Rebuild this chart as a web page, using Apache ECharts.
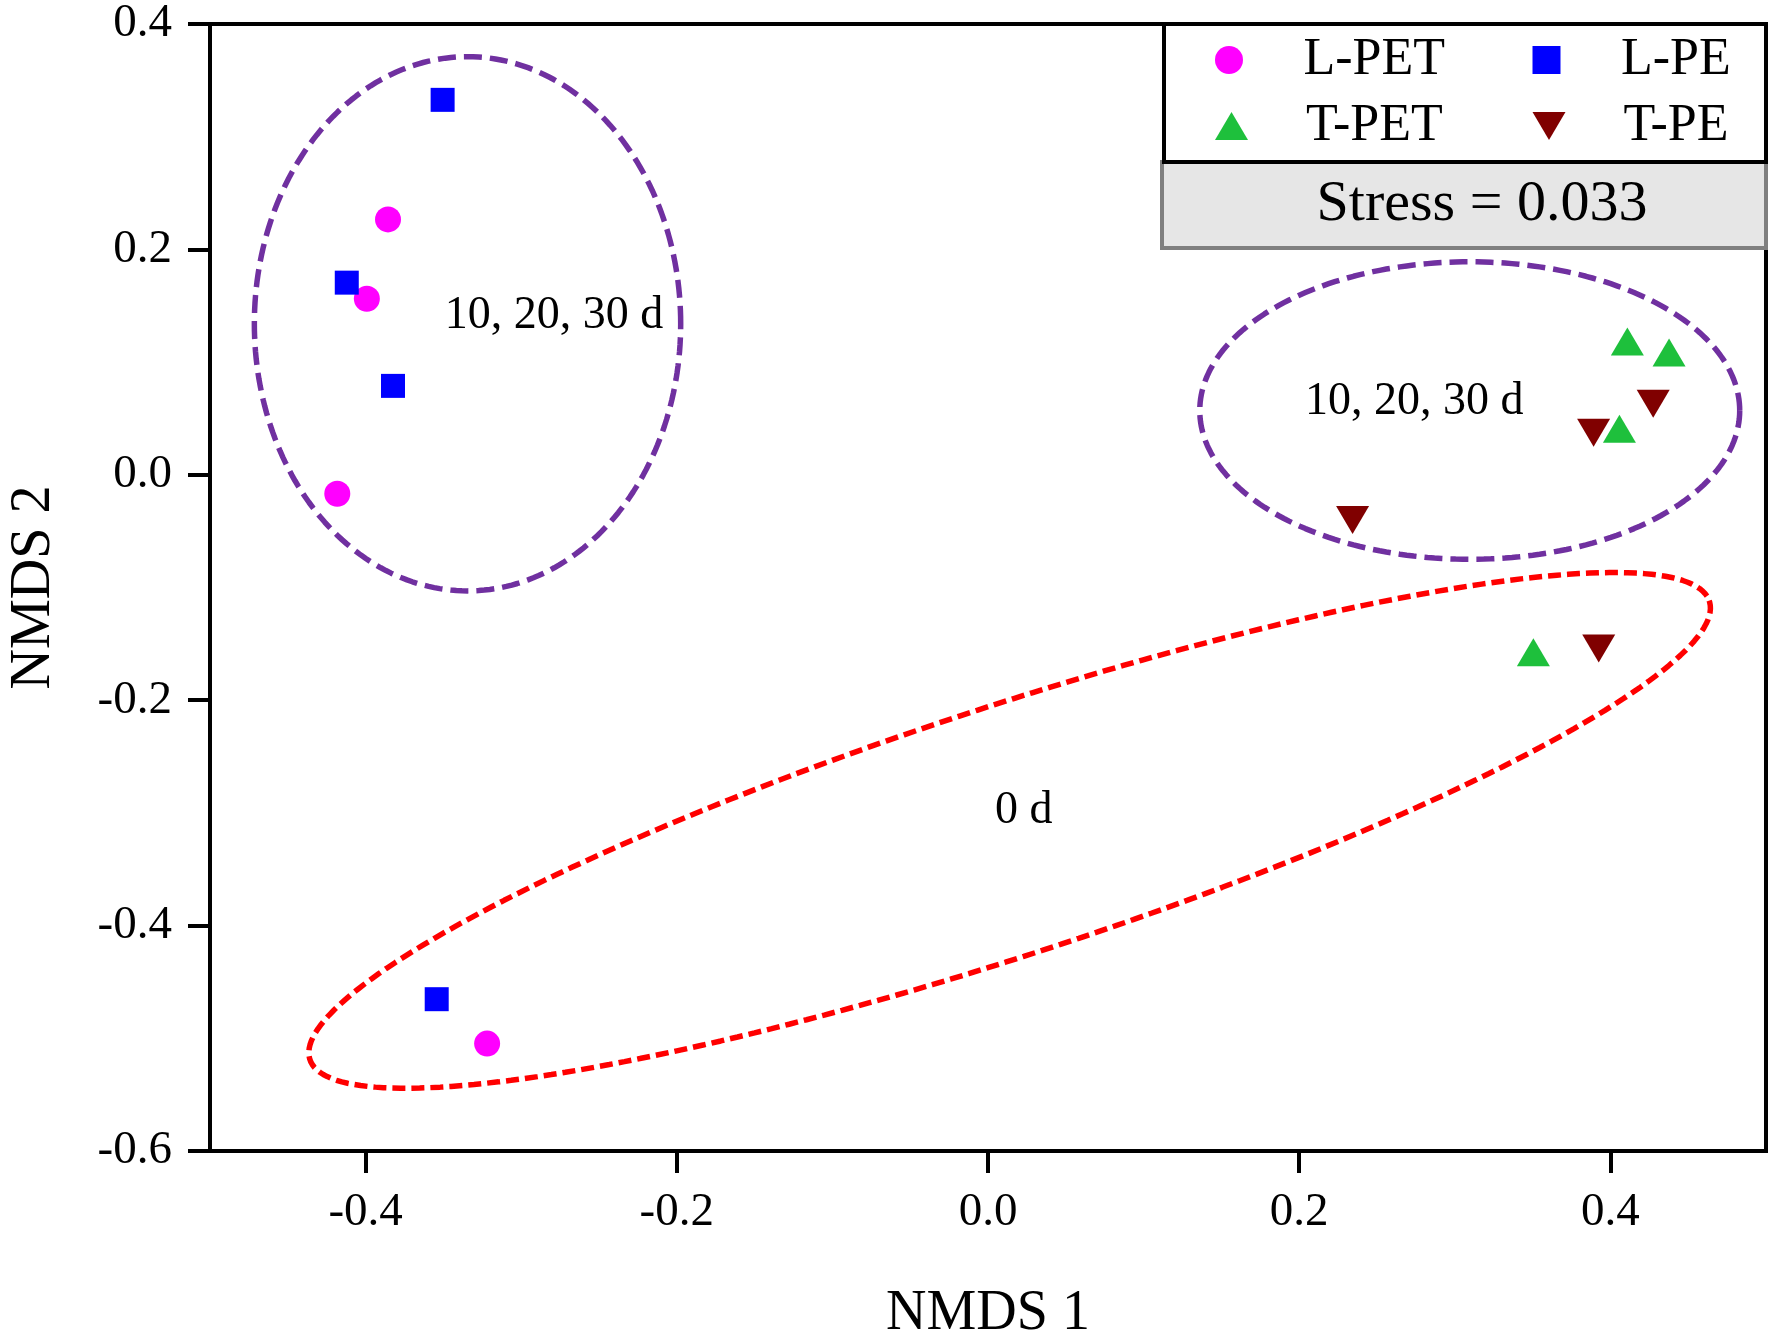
<!DOCTYPE html>
<html>
<head>
<meta charset="utf-8">
<title>NMDS</title>
<script src="https://cdn.jsdelivr.net/npm/echarts@6/dist/echarts.min.js"></script>
<style>
	html, body { margin: 0; padding: 0; background: #fff; }
	#chart { width: 1772px; height: 1334px; }
</style>
</head>
<body>
<div id="chart"></div>
<script>
// 样本点 [NMDS 1, NMDS 2]
var lPET = [[-0.3856, 0.2266], [-0.3992, 0.1562], [-0.4182, -0.0168], [-0.3219, -0.5047]];
var lPE = [[-0.3505, 0.3327], [-0.4121, 0.1705], [-0.3824, 0.0789], [-0.3543, -0.4653]];
var tPET = [[0.4109, 0.1183], [0.4377, 0.1086], [0.4058, 0.0408], [0.3505, -0.1575]];
var tPE = [[0.4275, 0.0630], [0.3892, 0.0373], [0.2343, -0.0401], [0.3925, -0.1542]];
var seriesNames = ['L-PET', 'L-PE', 'T-PET', 'T-PE'];

// 坐标轴刻度
var xTicks = [-0.4, -0.2, 0, 0.2, 0.4];
var yTicks = [-0.6, -0.4, -0.2, 0, 0.2, 0.4];

// 分组椭圆: 中心x, 中心y, 半轴a, 半轴b, 旋转角(度)
var ellipseLeft = [-0.3345, 0.134, 0.137, 0.237, 0];
var ellipseRight = [0.3096, 0.057, 0.1735, 0.132, 0];
var ellipseZero = [0.0139, -0.3155, 0.494, 0.1056, 24.87];

// 椭圆标注
var groupNotes = [[-0.279, 0.141, '10, 20, 30 d'], [0.274, 0.065, '10, 20, 30 d'], [0.023, -0.298, '0 d']];
var stressText = 'Stress = 0.033';

var FONT = 'Liberation Serif';
var downTri = 'path://M0,0 L66,0 L33,56 Z';
var upTri = 'path://M33,0 L66,56 L0,56 Z';
var square = 'path://M0,0 L10,0 L10,10 L0,10 Z';

//椭圆取点
function ellipse_points(e) {
	var pts = [];
	var rad = e[4] * Math.PI / 180;
	for(var i = 0; i <= 240; i++) {
		var t = i / 240 * 2 * Math.PI;
		var u = e[2] * Math.cos(t);
		var v = e[3] * Math.sin(t);
		pts.push([e[0] + u * Math.cos(rad) - v * Math.sin(rad), e[1] + u * Math.sin(rad) + v * Math.cos(rad)]);
	}
	return pts;
}

function ellipse_series(e, color, dash) {
	return {
		type: 'line',
		data: ellipse_points(e),
		symbol: 'none',
		silent: true,
		z: 2,
		lineStyle: { color: color, width: 5.5, type: dash }
	};
}

function tick_fmt(v) {
	if(Math.abs(v) < 1e-9) return '0.0';
	return v.toFixed(1);
}

//图例: 每项单独放置
function legend_item(name, icon, cx, cy) {
	return {
		left: cx - 16.5, top: cy - 26, z: 100,
		padding: 0, itemGap: 0,
		itemWidth: 33, itemHeight: 28,
		symbolRotate: 0, selectedMode: false,
		textStyle: { fontSize: 52, fontFamily: FONT, color: '#000', lineHeight: 40, padding: [0, 0, 0, 53] },
		data: [{ name: name, icon: icon }]
	};
}

var myChart = echarts.init(document.getElementById('chart'));

var option = {
	animation: false,
	backgroundColor: '#fff',
	grid: {
		left: 210, top: 24, right: 6, bottom: 183,
		outerBoundsMode: 'none', containLabel: false,
		show: true, borderColor: '#000', borderWidth: 4
	},
	xAxis: {
		type: 'value', min: -0.5, max: 0.5,
		splitLine: { show: false },
		axisLine: { onZero: false, lineStyle: { color: '#000', width: 4 } },
		axisTick: { customValues: xTicks, length: 22, lineStyle: { color: '#000', width: 4 } },
		axisLabel: { customValues: xTicks, formatter: tick_fmt, fontSize: 47, fontFamily: FONT, color: '#000', margin: 38 },
		name: 'NMDS 1', nameLocation: 'middle', nameGap: 135,
		nameTextStyle: { fontSize: 56, fontFamily: FONT, color: '#000' }
	},
	yAxis: {
		type: 'value', min: -0.6, max: 0.4, interval: 0.2,
		splitLine: { show: false },
		axisLine: { onZero: false, lineStyle: { color: '#000', width: 4 } },
		axisTick: { length: 22, lineStyle: { color: '#000', width: 4 } },
		axisLabel: { formatter: tick_fmt, fontSize: 47, fontFamily: FONT, color: '#000', margin: 38 },
		name: 'NMDS 2', nameLocation: 'middle', nameGap: 148,
		nameTextStyle: { fontSize: 56, fontFamily: FONT, color: '#000' }
	},
	legend: [
		legend_item(seriesNames[0], 'circle', 1231.5, 60),
		legend_item(seriesNames[1], square, 1549, 60),
		legend_item(seriesNames[2], upTri, 1231.5, 126),
		legend_item(seriesNames[3], downTri, 1549, 126)
	],
	graphic: [{
		type: 'rect', z: 90,
		shape: { x: 1164, y: 24, width: 602, height: 138 },
		style: { fill: '#fff', stroke: '#000', lineWidth: 4 }
	}, {
		type: 'rect', z: 89,
		shape: { x: 1162, y: 162, width: 604, height: 86 },
		style: { fill: '#e6e6e6', stroke: '#808080', lineWidth: 4 }
	}, {
		type: 'text', z: 91,
		x: 1482, y: 205,
		style: { text: stressText, fontSize: 58, fontFamily: FONT, fill: '#000', align: 'center', verticalAlign: 'middle' }
	}],
	series: [
		ellipse_series(ellipseLeft, '#7030a0', [18, 8]),
		ellipse_series(ellipseRight, '#7030a0', [18, 8]),
		ellipse_series(ellipseZero, '#ff0000', [13, 6]),
		{ name: seriesNames[0], type: 'scatter', data: lPET, symbol: 'circle', symbolSize: 26, z: 5, itemStyle: { color: '#ff00ff', opacity: 1 } },
		{ name: seriesNames[1], type: 'scatter', data: lPE, symbol: 'rect', symbolSize: 24, z: 5, itemStyle: { color: '#0000ff', opacity: 1 } },
		{ name: seriesNames[2], type: 'scatter', data: tPET, symbol: 'triangle', symbolSize: [33, 28], z: 5, itemStyle: { color: '#1ec03c', opacity: 1 } },
		{ name: seriesNames[3], type: 'scatter', data: tPE, symbol: downTri, symbolSize: [33, 28], z: 5, itemStyle: { color: '#800000', opacity: 1 } },
		{
			//椭圆内文字
			type: 'custom', data: groupNotes, silent: true, z: 4,
			renderItem: function(params, api) {
				var p = api.coord([api.value(0), api.value(1)]);
				return {
					type: 'text', x: p[0], y: p[1],
					style: {
						text: groupNotes[params.dataIndex][2],
						fontSize: 46, fontFamily: FONT, fill: '#000',
						align: 'center', verticalAlign: 'middle'
					}
				};
			}
		}
	]
};
myChart.setOption(option);
</script>
</body>
</html>
